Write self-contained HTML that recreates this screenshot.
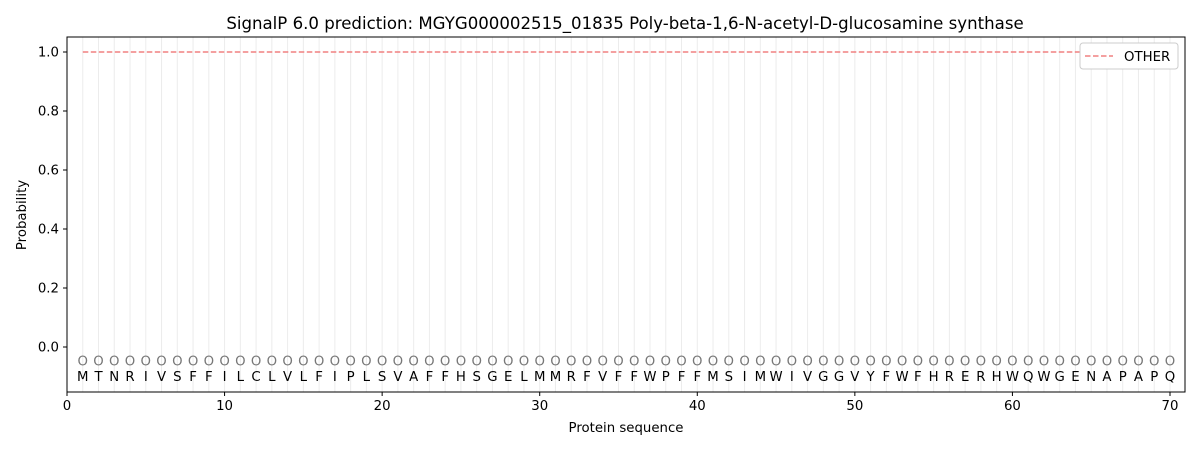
<!DOCTYPE html>
<html><head><meta charset="utf-8"><style>body{margin:0;background:#fff}svg{display:block}</style></head><body>
<svg width="1200" height="450" xmlns="http://www.w3.org/2000/svg" font-family="DejaVu Sans, Liberation Sans, sans-serif">
<rect width="1200" height="450" fill="#fff"/>
<g id="grid" stroke="#ececec" stroke-width="1"></g>
<line x1="82.8" y1="52" x2="1107" y2="52" stroke="#f08080" stroke-width="1.5" stroke-dasharray="5.5,2.5"/>
<g id="marks"></g>
<rect x="67" y="37" width="1118" height="355" fill="none" stroke="#000" stroke-width="1"/>
<g id="ticks" font-size="13.3" fill="#000"></g>
<text x="625" y="29" font-size="16.6" text-anchor="middle">SignalP 6.0 prediction: MGYG000002515_01835 Poly-beta-1,6-N-acetyl-D-glucosamine synthase</text>
<text x="626" y="432" font-size="13.3" text-anchor="middle">Protein sequence</text>
<text x="26" y="215" font-size="13.3" text-anchor="middle" transform="rotate(-90 26 215)">Probability</text>
<rect x="1080" y="43" width="98" height="26" rx="3" fill="#fff" stroke="#ccc"/>
<line x1="1085" y1="56" x2="1113" y2="56" stroke="#f08080" stroke-width="1.5" stroke-dasharray="5.5,2.5"/>
<text x="1124" y="61" font-size="13.3">OTHER</text>
<script>
var seq="MTNRIVSFFILCLVLFIPLSVAFFHSGELMMRFVFFWPFFMSIMWIVGGVYFWFHRERHWQWGENAPAPQ";
var ns="http://www.w3.org/2000/svg";
function X(i){return 67+i*15.757;}
function Y(v){return 347-v*295;}
var g=document.getElementById("grid"),m=document.getElementById("marks"),t=document.getElementById("ticks");
function el(p,n,a,tx){var e=document.createElementNS(ns,n);for(var k in a)e.setAttribute(k,a[k]);if(tx!==undefined)e.textContent=tx;p.appendChild(e);return e;}
for(var i=1;i<=seq.length;i++){
 el(g,"line",{x1:X(i),x2:X(i),y1:37,y2:392});
 el(m,"text",{x:X(i),y:365.5,"font-size":13.3,fill:"#777","text-anchor":"middle"},"O");
 el(m,"text",{x:X(i),y:381,"font-size":13.3,fill:"#000","text-anchor":"middle"},seq[i-1]);
}
for(var v=0;v<=70;v+=10){el(t,"line",{x1:X(v),x2:X(v),y1:392,y2:396,stroke:"#000"});el(t,"text",{x:X(v),y:410,"text-anchor":"middle"},v);}
for(var j=0;j<=5;j++){var v2=j*0.2;el(t,"line",{x1:63,x2:67,y1:Y(v2),y2:Y(v2),stroke:"#000"});el(t,"text",{x:59,y:Y(v2)+4.5,"text-anchor":"end"},v2.toFixed(1));}
</script>
</svg>
</body></html>
